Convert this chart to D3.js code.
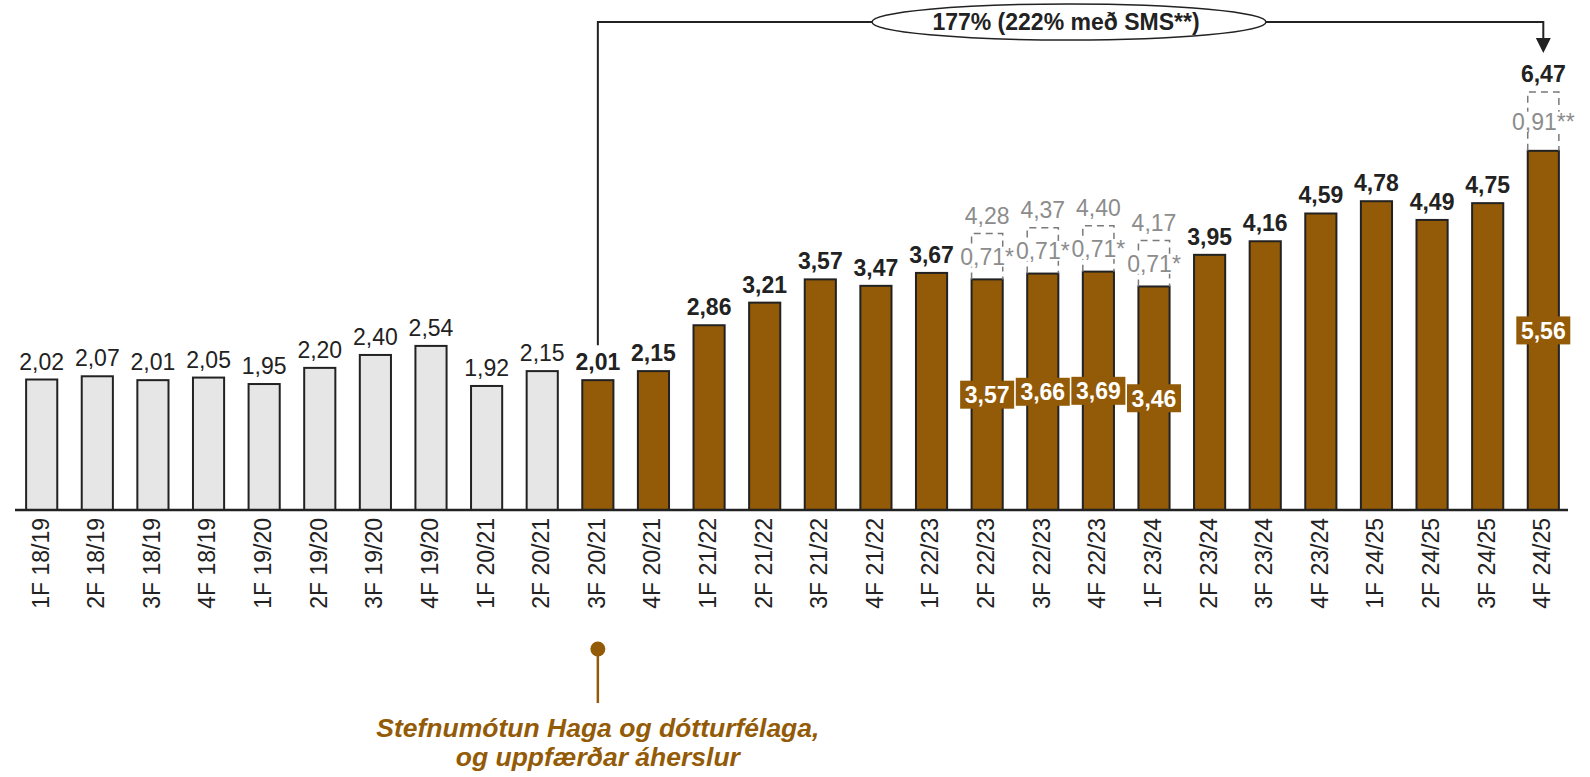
<!DOCTYPE html>
<html>
<head>
<meta charset="utf-8">
<script src="https://cdn.jsdelivr.net/npm/d3@7"></script>
<style>
  html, body { margin: 0; padding: 0; background: #fff; }
  svg { display: block; font-family: "Liberation Sans", Arial, sans-serif; }
</style>
</head>
<body>
<svg id="chart" width="1590" height="777"></svg>
<script>
// ---- data ----
const quarters = [
  "1F 18/19","2F 18/19","3F 18/19","4F 18/19",
  "1F 19/20","2F 19/20","3F 19/20","4F 19/20",
  "1F 20/21","2F 20/21","3F 20/21","4F 20/21",
  "1F 21/22","2F 21/22","3F 21/22","4F 21/22",
  "1F 22/23","2F 22/23","3F 22/23","4F 22/23",
  "1F 23/24","2F 23/24","3F 23/24","4F 23/24",
  "1F 24/25","2F 24/25","3F 24/25","4F 24/25"
];
const values = [
  2.02, 2.07, 2.01, 2.05,
  1.95, 2.20, 2.40, 2.54,
  1.92, 2.15, 2.01, 2.15,
  2.86, 3.21, 3.57, 3.47,
  3.67, 3.57, 3.66, 3.69,
  3.46, 3.95, 4.16, 4.59,
  4.78, 4.49, 4.75, 5.56
];
const highlightFrom = "3F 20/21";
// extra (dashed) segments on top of some bars
const extraQuarters = ["2F 22/23","3F 22/23","4F 22/23","1F 23/24","4F 24/25"];
const extraValues   = [0.71, 0.71, 0.71, 0.71, 0.91];
const extraLabels   = ["0,71*","0,71*","0,71*","0,71*","0,91**"];
const totalValues   = [4.28, 4.37, 4.40, 4.17, 6.47];
const growthLabel = "177% (222% með SMS**)";
const growthFrom = "3F 20/21";
const growthTo = "4F 24/25";
const noteLines = ["Stefnumótun Haga og dótturfélaga,", "og uppfærðar áherslur"];

// ---- styles ----
const BROWN = "#935B07";
const GREYFILL = "#e6e6e6";
const DARK = "#222222";
const GREYTXT = "#8c8c8c";

const svg = d3.select("#chart");
const fmt = v => v.toFixed(2).replace(".", ",");

const x = d3.scaleBand().domain(quarters).range([15, 1570]).paddingInner(0.44).paddingOuter(0.2);
const y = d3.scaleLinear().domain([0, 7.4]).range([510, 510 - 7.4 * 64.6]);
const bw = x.bandwidth();
const cx = q => x(q) + bw / 2;
const hiIdx = quarters.indexOf(highlightFrom);
const isHi = i => i >= hiIdx;

const data = quarters.map((q, i) => {
  const ei = extraQuarters.indexOf(q);
  return { q, v: values[i], i, hi: isHi(i), ei };
});

// bars
svg.append("g").selectAll("rect").data(data).join("rect")
  .attr("x", d => x(d.q))
  .attr("y", d => y(d.v))
  .attr("width", bw)
  .attr("height", d => y(0) - y(d.v))
  .attr("fill", d => d.hi ? BROWN : GREYFILL)
  .attr("stroke", DARK)
  .attr("stroke-width", 2);

// dashed extra segments
const ext = data.filter(d => d.ei >= 0);
svg.append("g").selectAll("path").data(ext).join("path")
  .attr("d", d => {
    const x0 = x(d.q), x1 = x(d.q) + bw;
    const yb = y(d.v), yt = y(d.v + extraValues[d.ei]);
    return `M${x0},${yb}V${yt}H${x1}V${yb}`;
  })
  .attr("fill", "none")
  .attr("stroke", "#7a7a7a")
  .attr("stroke-width", 1.5)
  .attr("stroke-dasharray", "7,5");

const extG = svg.append("g");
ext.forEach(d => {
  const g = extG.append("g")
    .attr("transform", `translate(${cx(d.q)},${(y(d.v) + y(d.v + extraValues[d.ei])) / 2})`);
  const bg = g.append("rect").attr("fill", "#fff");
  const t = g.append("text")
    .attr("dy", "0.36em")
    .attr("text-anchor", "middle")
    .attr("font-size", 23)
    .attr("fill", GREYTXT)
    .text(extraLabels[d.ei]);
  const bb = t.node().getBBox();
  bg.attr("x", bb.x).attr("y", bb.y + 3).attr("width", bb.width).attr("height", bb.height - 6);
});

// top labels
const topLabels = svg.append("g");
data.forEach(d => {
  let val = d.v, txt = fmt(d.v), color = DARK, weight = d.hi ? "bold" : "normal";
  if (d.ei >= 0) {
    val = totalValues[d.ei];
    txt = fmt(totalValues[d.ei]);
    if (d.i !== quarters.length - 1) { color = GREYTXT; weight = "normal"; }
  }
  topLabels.append("text")
    .attr("x", cx(d.q))
    .attr("y", y(val) - 10)
    .attr("text-anchor", "middle")
    .attr("font-size", 23)
    .attr("font-weight", weight)
    .attr("fill", color)
    .text(txt);
});

// inner boxed labels for stacked bars
const inner = svg.append("g");
ext.forEach(d => {
  const ym = y(d.v / 2);
  const g = inner.append("g").attr("transform", `translate(${cx(d.q)},${ym})`);
  g.append("rect").attr("x", -27).attr("y", -14).attr("width", 54).attr("height", 28).attr("fill", BROWN);
  g.append("text").attr("text-anchor", "middle").attr("dy", "0.36em")
    .attr("font-size", 23).attr("font-weight", "bold").attr("fill", "#fff")
    .text(fmt(d.v));
});

// x axis
const xAxis = svg.append("g").attr("transform", `translate(0,${y(0)})`)
  .call(d3.axisBottom(x).tickSize(0).tickPadding(0));
xAxis.select(".domain").attr("d", `M15,0H1568`).attr("stroke", DARK).attr("stroke-width", 2.5);
xAxis.selectAll(".tick text")
  .attr("font-size", 23)
  .attr("font-family", "Liberation Sans, Arial, sans-serif")
  .attr("fill", DARK)
  .attr("text-anchor", "end")
  .attr("transform", "rotate(-90)")
  .attr("x", -8)
  .attr("y", 0)
  .attr("dy", "0.3em");

// growth bracket
const xa = cx(growthFrom), xb = cx(growthTo);
const yTopLine = 22;
svg.append("path")
  .attr("d", `M${xa},${y(values[quarters.indexOf(growthFrom)]) - 35}V${yTopLine}H${xb}V40`)
  .attr("fill", "none").attr("stroke", DARK).attr("stroke-width", 2);
svg.append("path")
  .attr("d", `M${xb - 7.5},38L${xb + 7.5},38L${xb},53Z`)
  .attr("fill", DARK);
const ex = 1069;
svg.append("ellipse").attr("cx", ex).attr("cy", yTopLine).attr("rx", 197).attr("ry", 18)
  .attr("fill", "#fff").attr("stroke", DARK).attr("stroke-width", 1.5);
svg.append("text").attr("x", ex - 3).attr("y", yTopLine).attr("dy", "0.36em")
  .attr("text-anchor", "middle").attr("font-size", 23).attr("font-weight", "bold")
  .attr("fill", DARK).text(growthLabel);

// bottom note
const nx = cx(highlightFrom);
svg.append("line").attr("x1", nx).attr("x2", nx).attr("y1", 649).attr("y2", 703)
  .attr("stroke", BROWN).attr("stroke-width", 2.5);
svg.append("circle").attr("cx", nx).attr("cy", 649).attr("r", 7.5).attr("fill", BROWN);
svg.append("g").selectAll("text").data(noteLines).join("text")
  .attr("x", nx)
  .attr("y", (d, i) => 737 + i * 29)
  .attr("text-anchor", "middle")
  .attr("font-size", 26.5)
  .attr("font-weight", "bold")
  .attr("font-style", "italic")
  .attr("fill", BROWN)
  .text(d => d);
</script>
</body>
</html>
